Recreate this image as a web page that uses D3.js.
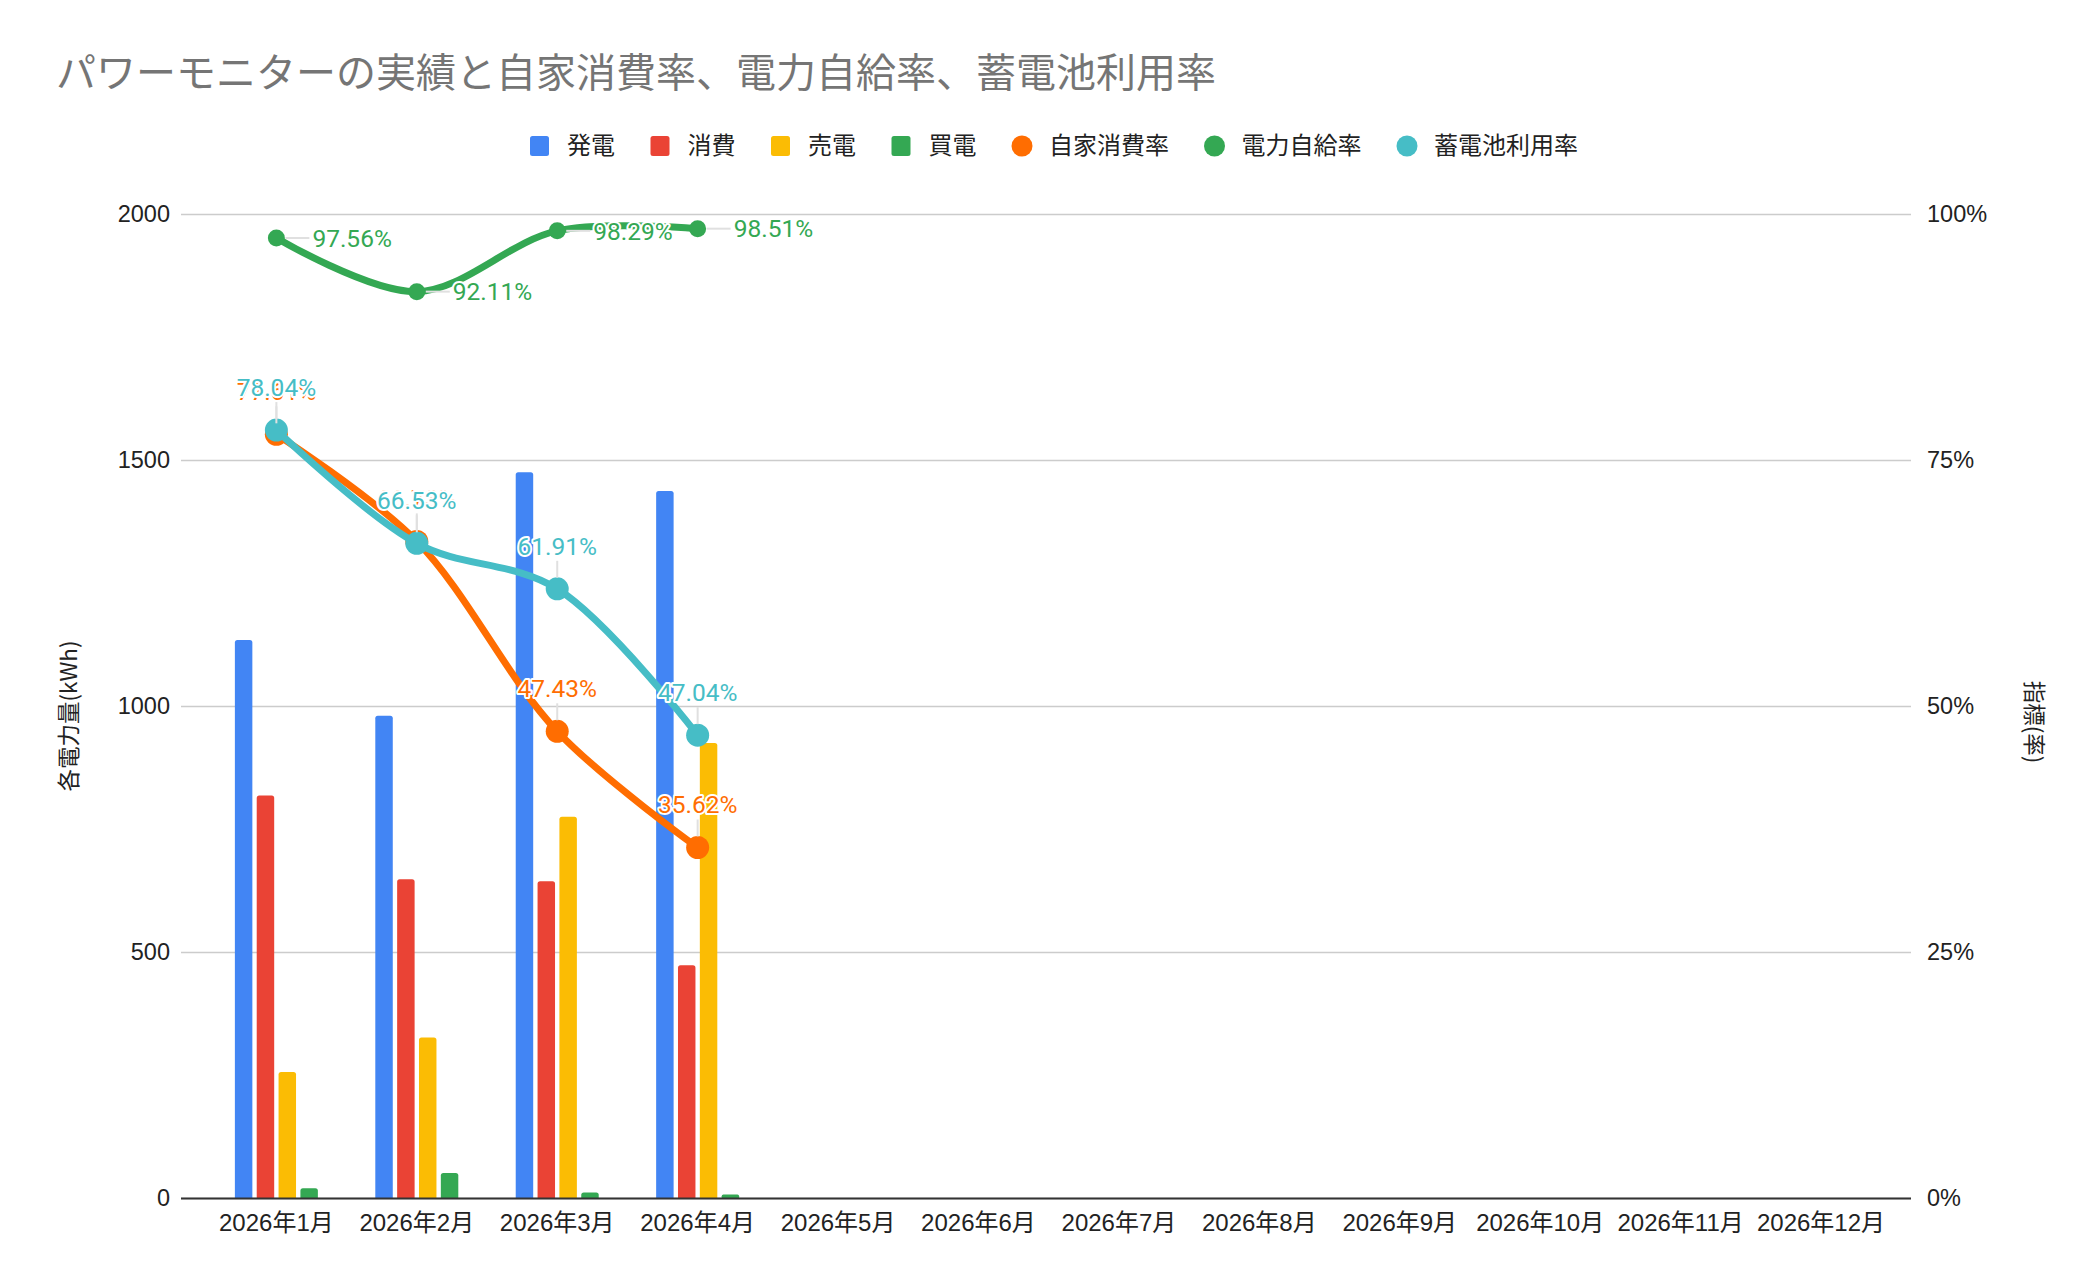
<!DOCTYPE html>
<html><head><meta charset="utf-8">
<script src="https://cdn.jsdelivr.net/npm/d3@7"></script>
<style>body{margin:0;background:#fff} svg{display:block}</style>
</head><body>
<svg id="c" width="2098" height="1278"></svg>
<script>
const months = ["2026年1月","2026年2月","2026年3月","2026年4月","2026年5月","2026年6月","2026年7月","2026年8月","2026年9月","2026年10月","2026年11月","2026年12月"];
const barSeries = ["発電","消費","売電","買電"];
const generation = [1134, 980, 1475, 1437];
const consumption = [818, 648, 644, 473];
const sold = [256, 326, 775, 925];
const bought = [20, 51, 11, 7];
const lineSeries = ["自家消費率","電力自給率","蓄電池利用率"];
const selfConsumptionRate = [77.61, 66.73, 47.43, 35.62];
const selfSufficiencyRate = [97.56, 92.11, 98.29, 98.51];
const batteryUseRate = [78.04, 66.53, 61.91, 47.04];
const leftTicks = [0, 500, 1000, 1500, 2000];
const rightTicks = [0, 25, 50, 75, 100];
const titleText = "パワーモニターの実績と自家消費率、電力自給率、蓄電池利用率";
const leftTitle = "各電力量(kWh)";
const rightTitle = "指標(率)";

const barColors = ["#4285F4", "#EA4335", "#FBBC04", "#34A853"];
const lineColors = ["#FF6D01", "#34A853", "#46BDC6"];
const JP = "'Noto Sans CJK JP','Noto Sans',sans-serif";
const NUM = "'Liberation Sans','Noto Sans CJK JP',Arial,sans-serif";

const svg = d3.select("#c");
const L = 181, R = 1911, T = 214, B = 1198;

const x0 = d3.scaleBand().domain(months).range([L + 2.7, R + 2.7]).paddingInner(0).paddingOuter(0.16);
const x1 = d3.scaleBand().domain(barSeries).range([-41.5, 41.5]).paddingInner(0.2);
const y = d3.scaleLinear().domain([0, 2000]).range([B, T]);
const yr = d3.scaleLinear().domain([0, 100]).range([B, T]);
const cx = i => x0(months[i]) + x0.bandwidth() / 2;

// title
svg.append("text").attr("x", 56).attr("y", 87).text(titleText)
  .attr("font-family", JP).attr("font-size", 40).attr("fill", "#757575");

// gridlines
svg.append("g").attr("transform", `translate(${L},0)`)
  .call(d3.axisLeft(y).tickValues(leftTicks).tickSize(-(R - L)).tickFormat(""))
  .call(g => g.select(".domain").remove())
  .call(g => g.selectAll("line").attr("stroke", "#cccccc").attr("stroke-width", 1.5));

// left axis labels
svg.append("g").attr("transform", `translate(${L},0)`)
  .call(d3.axisLeft(y).tickValues(leftTicks).tickSize(0).tickPadding(11).tickFormat(d3.format("d")))
  .call(g => g.select(".domain").remove())
  .call(g => g.selectAll("text").attr("font-family", NUM).attr("font-size", 23.5).attr("fill", "#222"));

// right axis labels
svg.append("g").attr("transform", `translate(${R},0)`)
  .call(d3.axisRight(yr).tickValues(rightTicks).tickSize(0).tickPadding(16).tickFormat(d => d + "%"))
  .call(g => g.select(".domain").remove())
  .call(g => g.selectAll("text").attr("font-family", NUM).attr("font-size", 23.5).attr("fill", "#222"));

// bars
const barData = [generation, consumption, sold, bought];
const gBars = svg.append("g");
barData.forEach((arr, si) => {
  gBars.selectAll(null).data(arr).enter().append("path")
    .attr("fill", barColors[si])
    .attr("d", (d, i) => {
      const xl = cx(i) + x1(barSeries[si]), w = x1.bandwidth();
      const yt = y(d), h = B - yt, r = Math.min(2.5, h / 2);
      return `M${xl},${B}V${yt + r}Q${xl},${yt} ${xl + r},${yt}H${xl + w - r}Q${xl + w},${yt} ${xl + w},${yt + r}V${B}Z`;
    });
});

// x axis
svg.append("g").attr("transform", `translate(0,${B})`)
  .call(d3.axisBottom(x0).tickSize(0).tickPadding(16))
  .call(g => g.select(".domain").attr("stroke", "#333").attr("stroke-width", 2).attr("d", `M${L},0.5H${R}`))
  .call(g => g.selectAll("text").attr("font-family", NUM).attr("font-size", 24).attr("fill", "#222"));

// lines
const lineData = [selfConsumptionRate, selfSufficiencyRate, batteryUseRate];
const lineGen = d3.line().x((d, i) => cx(i)).y(d => yr(d)).curve(d3.curveCatmullRom.alpha(0.5));
const radii = [11.5, 8.5, 11.5];
lineData.forEach((arr, si) => {
  const g = svg.append("g");
  g.append("path").attr("d", lineGen(arr)).attr("fill", "none")
    .attr("stroke", lineColors[si]).attr("stroke-width", 7)
    .attr("stroke-linejoin", "round").attr("stroke-linecap", "round");
  g.selectAll("circle").data(arr).enter().append("circle")
    .attr("cx", (d, i) => cx(i)).attr("cy", d => yr(d)).attr("r", radii[si]).attr("fill", lineColors[si]);
});

// data labels
const fmt = d => d.toFixed(2) + "%";
lineData.forEach((arr, si) => {
  const g = svg.append("g");
  arr.forEach((d, i) => {
    const px = cx(i), py = yr(d);
    if (si === 1) {
      g.append("line").attr("x1", px + 9).attr("x2", px + 33).attr("y1", py).attr("y2", py)
        .attr("stroke", "#e0e0e0").attr("stroke-width", 2);
      g.append("text").attr("x", px + 36).attr("y", py).attr("dy", "0.36em").text(fmt(d))
        .attr("font-family", "Roboto, sans-serif").attr("font-size", 24.5).attr("fill", lineColors[si])
        .attr("stroke", "#fff").attr("stroke-width", 4).attr("paint-order", "stroke").attr("stroke-linejoin", "round");
    } else {
      g.append("line").attr("x1", px).attr("x2", px).attr("y1", py - 11).attr("y2", py - 28)
        .attr("stroke", "#e0e0e0").attr("stroke-width", 2);
      g.append("text").attr("x", px).attr("y", py - 34).attr("text-anchor", "middle").text(fmt(d))
        .attr("font-family", "Roboto, sans-serif").attr("font-size", 24.5).attr("fill", lineColors[si])
        .attr("stroke", "#fff").attr("stroke-width", 4).attr("paint-order", "stroke").attr("stroke-linejoin", "round");
    }
  });
});

// axis titles
svg.append("text").attr("transform", "translate(67,716) rotate(-90)").attr("text-anchor", "middle")
  .attr("dominant-baseline", "central").text(leftTitle)
  .attr("font-family", JP).attr("font-size", 22.5).attr("fill", "#222");
svg.append("text").attr("transform", "translate(2036,722) rotate(90)").attr("text-anchor", "middle")
  .attr("dominant-baseline", "central").text(rightTitle)
  .attr("font-family", JP).attr("font-size", 22.5).attr("fill", "#222");

// legend
const legendItems = barSeries.map((s, i) => ({name: s, color: barColors[i], shape: "rect"}))
  .concat(lineSeries.map((s, i) => ({name: s, color: lineColors[i], shape: "circle"})));
const lg = svg.append("g");
const ly = 146;
let lx = 0;
legendItems.forEach(it => {
  const g = lg.append("g").attr("transform", `translate(${lx},0)`);
  if (it.shape === "rect") {
    g.append("rect").attr("x", 0).attr("y", ly - 10).attr("width", 19).attr("height", 20).attr("rx", 2.5).attr("fill", it.color);
  } else {
    g.append("circle").attr("cx", 10).attr("cy", ly).attr("r", 10.5).attr("fill", it.color);
  }
  const t = g.append("text").attr("x", 37).attr("y", ly).attr("dy", "0.35em").text(it.name)
    .attr("font-family", JP).attr("font-size", 24).attr("fill", "#222");
  lx += 37 + t.node().getComputedTextLength() + 35.5;
});
const lw = lx - 35.5;
lg.attr("transform", `translate(${1054 - lw / 2},0)`);
</script>
</body></html>
